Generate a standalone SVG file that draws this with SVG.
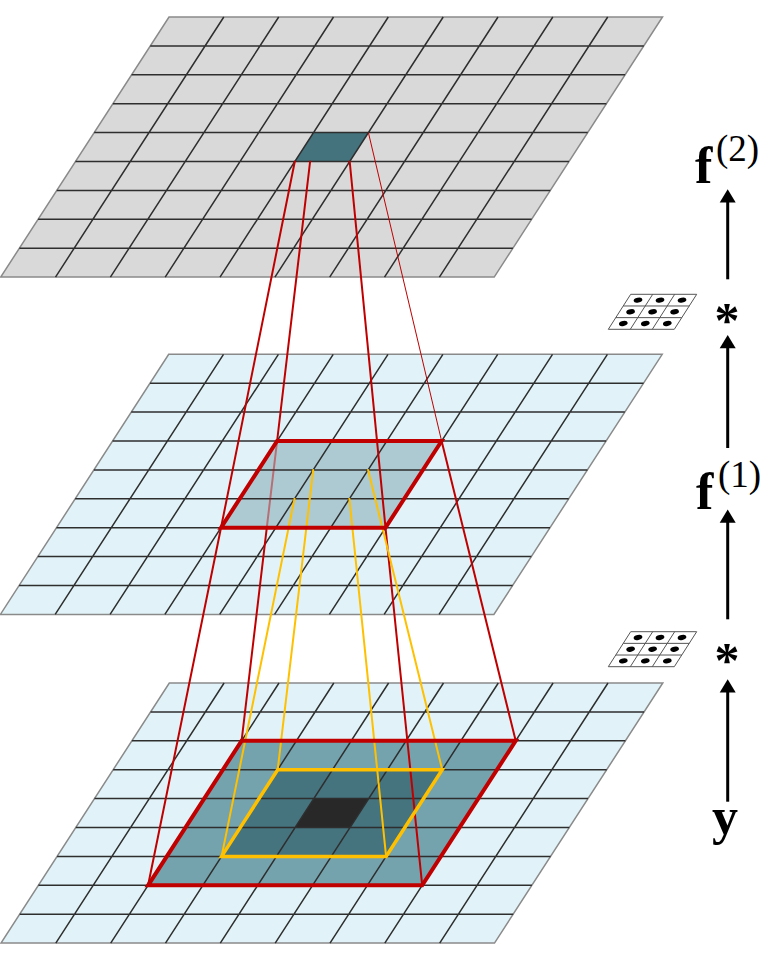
<svg xmlns="http://www.w3.org/2000/svg" xmlns:xlink="http://www.w3.org/1999/xlink" width="769" height="960" viewBox="0 0 769 960">
<style>
.outer{stroke:#8a8a8a;stroke-width:1.5;stroke-linejoin:miter}
.inner{fill:none;stroke:#2e2e2e;stroke-width:1.5}
.red{fill:none;stroke:#c00000;stroke-width:2;stroke-linecap:round}
.redthin{fill:none;stroke:#c00000;stroke-width:1}
.yel{fill:none;stroke:#ffc000;stroke-width:2;stroke-linecap:round}
.redbox{fill:none;stroke:#c00000;stroke-width:4;stroke-linejoin:miter}
.yelbox{fill:none;stroke:#ffc000;stroke-width:3.5;stroke-linejoin:miter}
.shaft{stroke:#000;stroke-width:3;fill:none}
.head{fill:#000}
.bold{font-family:"Liberation Serif","Times New Roman",serif;font-weight:bold;font-size:52px;fill:#000}
.sup{font-family:"Liberation Serif","Times New Roman",serif;font-size:37px;fill:#000}
.ast{font-family:"Liberation Serif","Times New Roman",serif;font-weight:bold;font-size:50px;fill:#000}
.kcell{fill:#fff;stroke:#555;stroke-width:1}
</style>
<defs>
<path id="gridOuter" d="M0,0 H493.5 L325.2,260.1 H-168.3 Z"/>
<path id="gridInner" d="M-18.7,28.9 H474.8 M-37.4,57.8 H456.1 M-56.1,86.7 H437.4 M-74.8,115.6 H418.7 M-93.5,144.5 H400 M-112.2,173.4 H381.3 M-130.9,202.3 H362.6 M-149.6,231.2 H343.9 M54.8,0 l-168.3,260.1 M109.7,0 l-168.3,260.1 M164.5,0 l-168.3,260.1 M219.3,0 l-168.3,260.1 M274.2,0 l-168.3,260.1 M329,0 l-168.3,260.1 M383.8,0 l-168.3,260.1 M438.7,0 l-168.3,260.1"/>
<g id="kernel">
<path class="kcell" d="M22.4,0 H88.4 L66,35 H0 Z"/>
<path fill="none" stroke="#555" stroke-width="1" d="M44.4,0 L22,35 M66.4,0 L44,35 M15,11.67 H81 M7.5,23.33 H73.5"/>
<g fill="#000">
<ellipse cx="29.7" cy="5.8" rx="4.4" ry="2.5" transform="rotate(-12 29.7 5.8)"/>
<ellipse cx="51.7" cy="5.8" rx="4.4" ry="2.5" transform="rotate(-12 51.7 5.8)"/>
<ellipse cx="73.7" cy="5.8" rx="4.4" ry="2.5" transform="rotate(-12 73.7 5.8)"/>
<ellipse cx="22.3" cy="17.5" rx="4.4" ry="2.5" transform="rotate(-12 22.3 17.5)"/>
<ellipse cx="44.3" cy="17.5" rx="4.4" ry="2.5" transform="rotate(-12 44.3 17.5)"/>
<ellipse cx="66.3" cy="17.5" rx="4.4" ry="2.5" transform="rotate(-12 66.3 17.5)"/>
<ellipse cx="15" cy="29.2" rx="4.4" ry="2.5" transform="rotate(-12 15 29.2)"/>
<ellipse cx="37" cy="29.2" rx="4.4" ry="2.5" transform="rotate(-12 37 29.2)"/>
<ellipse cx="59" cy="29.2" rx="4.4" ry="2.5" transform="rotate(-12 59 29.2)"/>
</g>
</g>
</defs>

<!-- Layer 2 (top) -->
<g id="layer-f2">
<use href="#gridOuter" x="169" y="17" class="outer" fill="#d9d9d9"/>
<polygon points="313.5,132.6 368.4,132.6 349.7,161.5 294.8,161.5" fill="#44737d"/>
<use href="#gridInner" x="169" y="17" class="inner"/>
</g>

<!-- Layer 1 (middle) -->
<g id="layer-f1">
<use href="#gridOuter" x="168.7" y="354.3" class="outer" fill="#e1f3f8"/>
<polygon points="277.1,441 441.6,441 385.5,527.7 221,527.7" fill="#adcad3"/>
<use href="#gridInner" x="168.7" y="354.3" class="inner"/>
</g>

<!-- Input layer (bottom) -->
<g id="layer-y">
<use href="#gridOuter" x="169.3" y="683" class="outer" fill="#e1f3f8"/>
<polygon points="241.6,740.8 515.7,740.8 422.2,885.3 148.1,885.3" fill="#74a3ae"/>
<polygon points="277.7,769.7 442.2,769.7 386.1,856.4 221.6,856.4" fill="#45737e"/>
<polygon points="313.8,798.6 368.7,798.6 350,827.5 295.1,827.5" fill="#282828"/>
<use href="#gridInner" x="169.3" y="683" class="inner"/>
</g>

<!-- Connectors -->
<g id="connectors">
<line class="red" x1="310.1" y1="161.5" x2="277.1" y2="441"/>
<line class="red" x1="294.8" y1="161.5" x2="221" y2="527.7"/>
<line class="red" x1="349.7" y1="161.5" x2="385.5" y2="527.7"/>
<line class="redthin" x1="368.4" y1="132.6" x2="441.6" y2="441"/>
<line class="red" x1="277.1" y1="441" x2="266.8" y2="527.7" stroke-opacity="0.45"/>
<line class="red" x1="266.8" y1="527.7" x2="241.6" y2="740.8"/>
<line class="red" x1="221" y1="527.7" x2="148.1" y2="885.3"/>
<line class="red" x1="441.6" y1="441" x2="515.7" y2="740.8"/>
<line class="red" x1="385.5" y1="527.7" x2="422.2" y2="885.3"/>
<line class="yel" x1="313.2" y1="469.9" x2="277.7" y2="769.7"/>
<line class="yel" x1="294.5" y1="498.8" x2="221.6" y2="856.4"/>
<line class="yel" x1="368.1" y1="469.9" x2="442.2" y2="769.7"/>
<line class="yel" x1="349.4" y1="498.8" x2="386.1" y2="856.4"/>
</g>

<g id="receptive-fields">
<polygon class="redbox" points="277.1,441 441.6,441 385.5,527.7 221,527.7"/>
<polygon class="redbox" points="241.6,740.8 515.7,740.8 422.2,885.3 148.1,885.3"/>
<polygon class="yelbox" points="277.7,769.7 442.2,769.7 386.1,856.4 221.6,856.4"/>
</g>

<!-- Right column -->
<g id="label-f2">
<text class="bold" x="695" y="183">f</text>
<text class="sup" x="716" y="161">(2)</text>
</g>
<g id="label-f1">
<text class="bold" x="696" y="509">f</text>
<text class="sup" x="718" y="487">(1)</text>
</g>
<g id="label-y">
<text class="bold" x="712" y="834">y</text>
</g>
<g id="kernel-2">
<use href="#kernel" x="608.3" y="294.3"/>
<text class="ast" x="714.5" y="337">*</text>
</g>
<g id="kernel-1">
<use href="#kernel" x="608.3" y="631.7"/>
<text class="ast" x="714.5" y="677">*</text>
</g>
<g id="arrows">
<line class="shaft" x1="727.7" y1="279.3" x2="727.7" y2="201"/>
<polygon class="head" points="727.7,189.3 735.7,202.5 719.7,202.5"/>
<line class="shaft" x1="727.7" y1="448" x2="727.7" y2="347"/>
<polygon class="head" points="727.7,335 735.7,348.2 719.7,348.2"/>
<line class="shaft" x1="727.7" y1="619.3" x2="727.7" y2="521"/>
<polygon class="head" points="727.7,509.5 735.7,522.7 719.7,522.7"/>
<line class="shaft" x1="727.7" y1="801.7" x2="727.7" y2="691"/>
<polygon class="head" points="727.7,679.3 735.7,692.5 719.7,692.5"/>
</g>
</svg>
